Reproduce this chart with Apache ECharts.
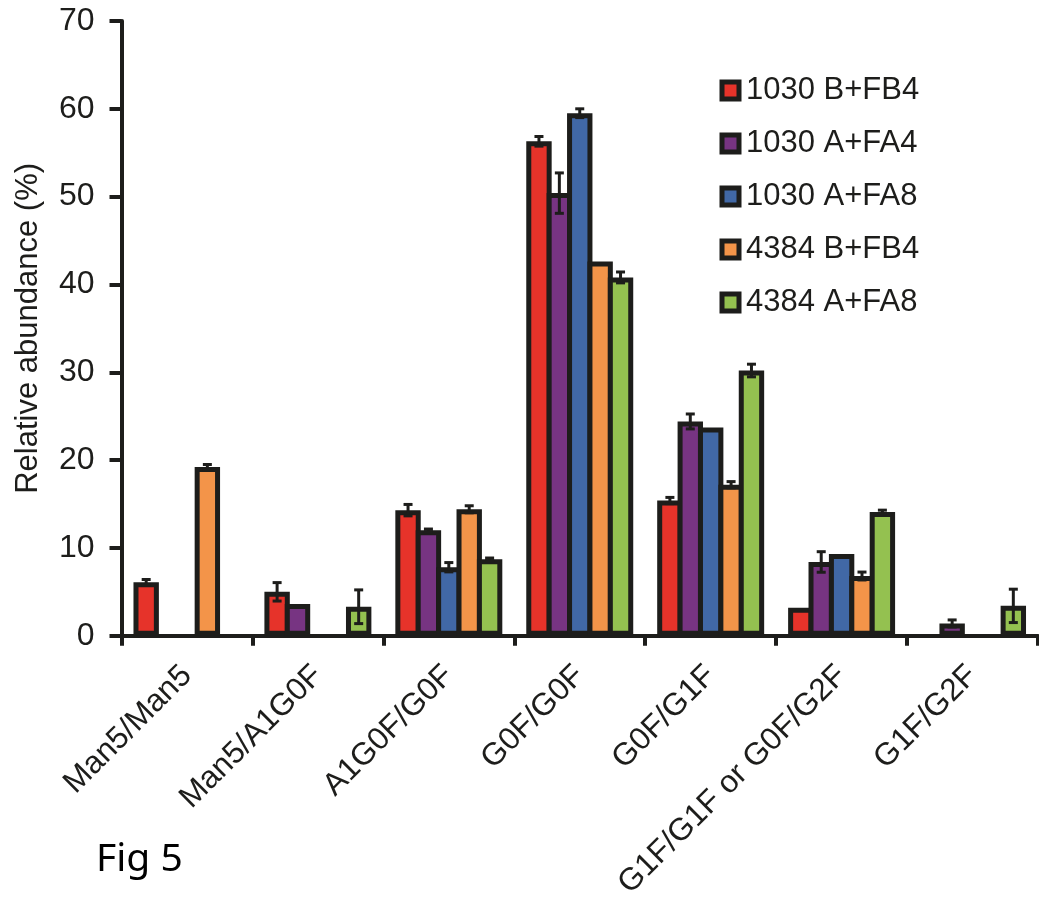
<!DOCTYPE html>
<html>
<head>
<meta charset="utf-8">
<script src="https://cdn.jsdelivr.net/npm/echarts@6/dist/echarts.min.js"></script>
<style>
  html, body { margin: 0; padding: 0; background: #ffffff; }
  #chart { width: 1039px; height: 902px; }
</style>
</head>
<body>
<div id="chart"></div>
<script>
// Glycoform categories along the x axis
const categories = ['Man5/Man5', 'Man5/A1G0F', 'A1G0F/G0F', 'G0F/G0F', 'G0F/G1F', 'G1F/G1F or G0F/G2F', 'G1F/G2F'];

// Sample names
const seriesNames = ['1030 B+FB4', '1030 A+FA4', '1030 A+FA8', '4384 B+FB4', '4384 A+FA8'];

// Mean relative abundance (%) per category; null = not detected
const v1030BFB4 = [6.1, 5.0, 14.3, 56.3, 15.4, 3.2, null];
const v1030AFA4 = [null, 3.6, 12.0, 50.4, 24.4, 8.4, 1.4];
const v1030AFA8 = [null, null, 7.8, 59.5, 23.7, 9.3, null];
const v4384BFB4 = [19.2, null, 14.4, 42.6, 17.2, 6.8, null];
const v4384AFA8 = [null, 3.3, 8.7, 40.8, 30.2, 14.1, 3.4];

// Standard deviations (error bar half-lengths)
const e1030BFB4 = [0.3, 1.05, 0.65, 0.55, 0.35, 0, 0];
const e1030AFA4 = [0, 0, 0.15, 2.3, 0.85, 1.17, 0.4];
const e1030AFA8 = [0, 0, 0.53, 0.5, 0, 0, 0];
const e4384BFB4 = [0.3, 0, 0.4, 0, 0.35, 0.45, 0];
const e4384AFA8 = [0, 1.92, 0.15, 0.62, 0.72, 0.2, 1.9];

// Y axis ticks
const yMin = 0, yMax = 70, yStep = 10;

const values = [v1030BFB4, v1030AFA4, v1030AFA8, v4384BFB4, v4384AFA8];
const errors = [e1030BFB4, e1030AFA4, e1030AFA8, e4384BFB4, e4384AFA8];
const colors = ['#e6332a', '#773482', '#4168a6', '#f39449', '#94c150'];
const ink = '#1d1d1b';
const FONT = 'Liberation Sans, Arial, sans-serif';
const N = seriesNames.length;
const CAT_GAP = 0.183;      // fraction of the band left empty
const BAR_GAP = -0.197;     // neighbouring bars overlap so their outlines merge
const BORDER = 5;

const barSeries = seriesNames.map((name, i) => ({
  name: name,
  type: 'bar',
  data: values[i].map(v => (v === null ? '-' : v)),
  barGap: (BAR_GAP * 100) + '%',
  barCategoryGap: (CAT_GAP * 100) + '%',
  itemStyle: { color: colors[i], borderColor: ink, borderWidth: BORDER },
  emphasis: { disabled: true },
  z: 2
}));

// Error bars placed at the same offsets as the grouped bars
const errorSeries = seriesNames.map((name, i) => ({
  type: 'custom',
  name: name + ' SD',
  z: 5,
  silent: true,
  data: values[i].map((v, c) => (v === null || !errors[i][c]) ? null : [c, v, errors[i][c]]).filter(d => d),
  renderItem: function (params, api) {
    const c = api.value(0), v = api.value(1), e = api.value(2);
    const band = api.size([1, 0])[0];
    const bw = band * (1 - CAT_GAP) / (N + (N - 1) * BAR_GAP);
    const step = bw * (1 + BAR_GAP);
    const off = (i - (N - 1) / 2) * step;
    const hi = api.coord([c, v + e]);
    const lo = api.coord([c, v - e]);
    const x = hi[0] + off;
    const cap = 4.5;
    const st = { stroke: ink, lineWidth: 3 };
    return {
      type: 'group',
      children: [
        { type: 'line', shape: { x1: x, y1: hi[1], x2: x, y2: lo[1] }, style: st },
        { type: 'line', shape: { x1: x - cap, y1: hi[1], x2: x + cap, y2: hi[1] }, style: st },
        { type: 'line', shape: { x1: x - cap, y1: lo[1], x2: x + cap, y2: lo[1] }, style: st }
      ]
    };
  }
}));

const chart = echarts.init(document.getElementById('chart'), null, { renderer: 'canvas' });
chart.setOption({
  animation: false,
  backgroundColor: '#ffffff',
  textStyle: { fontFamily: FONT, color: ink },
  grid: { left: 121.5, right: 1, top: 21, bottom: 262, containLabel: false },
  legend: {
    data: seriesNames,
    orient: 'vertical',
    left: 714.5,
    top: 70,
    itemWidth: 17,
    itemHeight: 17,
    itemGap: 22,
    icon: 'rect',
    itemStyle: { borderColor: ink, borderWidth: 5 },
    textStyle: { fontSize: 31, lineHeight: 30, color: ink, padding: [0, 0, 0, 2], fontFamily: FONT },
    selectedMode: false
  },
  xAxis: {
    type: 'category',
    data: categories,
    axisLine: { lineStyle: { color: ink, width: 4 } },
    axisTick: { show: true, length: 10, lineStyle: { color: ink, width: 4 } },
    axisLabel: { rotate: 45, fontSize: 31.5, color: ink, margin: 35, interval: 0, fontFamily: FONT },
    splitLine: { show: false }
  },
  yAxis: {
    type: 'value',
    min: yMin,
    max: yMax,
    interval: yStep,
    name: 'Relative abundance (%)',
    nameLocation: 'middle',
    nameRotate: 90,
    nameGap: 78,
    nameTextStyle: { fontSize: 31, color: ink, fontFamily: FONT },
    axisLine: { show: true, lineStyle: { color: ink, width: 4 } },
    axisTick: { show: true, length: 12, lineStyle: { color: ink, width: 4 } },
    axisLabel: { fontSize: 32, color: ink, margin: 27, fontFamily: FONT },
    splitLine: { show: false }
  },
  graphic: [{
    type: 'text',
    left: 96,
    top: 840,
    style: { text: 'Fig 5', fontSize: 39, fill: '#000000', fontFamily: 'Noto Sans, sans-serif' }
  }],
  series: barSeries.concat(errorSeries)
});
</script>
</body>
</html>
